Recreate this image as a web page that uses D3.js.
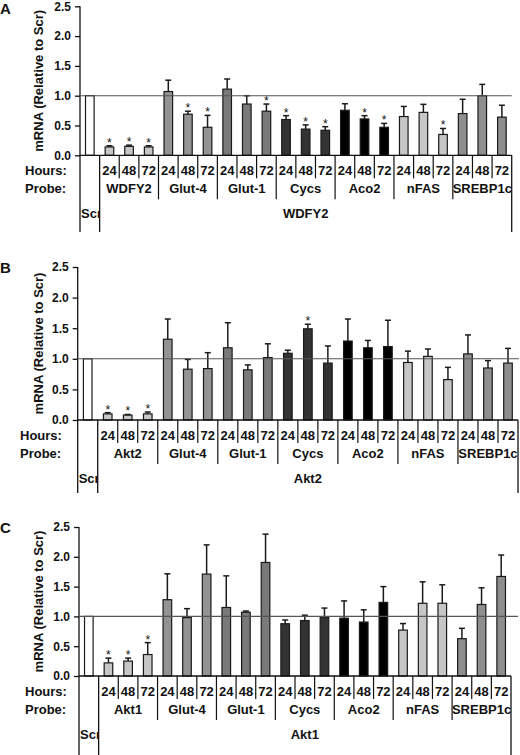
<!DOCTYPE html>
<html><head><meta charset="utf-8">
<script src="https://cdn.jsdelivr.net/npm/d3@7"></script>
<style>
body{margin:0;background:#fff;}
svg text{font-family:"Liberation Sans",Arial,sans-serif;font-weight:bold;fill:#111;}
</style></head>
<body><svg id="chart" width="520" height="755"></svg>
<script>
// ---- data ----
const panelLetters = ["A", "B", "C"];
const targets = ["WDFY2", "Akt2", "Akt1"];
const probesCommon = ["Glut-4", "Glut-1", "Cycs", "Aco2", "nFAS", "SREBP1c"];
const hours = ["24", "48", "72"];
const yTicks = [0, 0.5, 1.0, 1.5, 2.0, 2.5];
const scrValue = 1.0;

// means for 7 probes x 3 time points (target, Glut-4, Glut-1, Cycs, Aco2, nFAS, SREBP1c)
const meansA = [0.14, 0.15, 0.14,  1.07, 0.69, 0.47,  1.11, 0.86, 0.74,  0.60, 0.44, 0.42,  0.755, 0.61, 0.47,  0.65, 0.72, 0.35,  0.70, 1.00, 0.64];
const errsA  = [0.02, 0.02, 0.02,  0.19, 0.05, 0.20,  0.17, 0.14, 0.12,  0.065, 0.07, 0.06,  0.11, 0.055, 0.065,  0.17, 0.135, 0.10,  0.24, 0.19, 0.20];
const starsA = [1,1,1, 0,1,1, 0,0,1, 1,1,1, 0,1,1, 0,0,1, 0,0,0];

const meansB = [0.10, 0.08, 0.10,  1.32, 0.83, 0.84,  1.18, 0.82, 1.02,  1.09, 1.49, 0.93,  1.29, 1.18, 1.20,  0.94, 1.04, 0.66,  1.08, 0.85, 0.93];
const errsB  = [0.02, 0.01, 0.03,  0.33, 0.16, 0.26,  0.41, 0.08, 0.225,  0.05, 0.075, 0.28,  0.36, 0.12, 0.43,  0.185, 0.12, 0.20,  0.31, 0.12, 0.24];
const starsB = [1,1,1, 0,0,0, 0,0,0, 0,1,0, 0,0,0, 0,0,0, 0,0,0];

const meansC = [0.22, 0.25, 0.36,  1.28, 0.98, 1.71,  1.15, 1.07, 1.905,  0.877, 0.93, 0.99,  0.97, 0.905, 1.235,  0.77, 1.22, 1.22,  0.626, 1.20, 1.67];
const errsC  = [0.08, 0.05, 0.20,  0.435, 0.15, 0.49,  0.53, 0.02, 0.475,  0.063, 0.09, 0.15,  0.29, 0.205, 0.265,  0.11, 0.36, 0.31,  0.174, 0.28, 0.36];
const starsC = [1,1,1, 0,0,0, 0,0,0, 0,0,0, 0,0,0, 0,0,0, 0,0,0];

const panelMeans = [meansA, meansB, meansC];
const panelErrs = [errsA, errsB, errsC];
const panelStars = [starsA, starsB, starsC];

// ---- layout / style ----
const groupColors = ["#c6c6c6", "#939393", "#7a7a7a", "#333333", "#000000", "#c6c6c6", "#8e8e8e"];
const layouts = [
  {x0: 80, x1: 511.7, refEnd: 511.7, y0: 155.3, yTop: 6.3, bottom: 232, letterY: 14, rowX: 25},
  {x0: 77.7, x1: 518, refEnd: 519, y0: 420, yTop: 267, bottom: 493, letterY: 273, rowX: 20},
  {x0: 79, x1: 511, refEnd: 518, y0: 676, yTop: 527, bottom: 755, letterY: 533, rowX: 25}
];

const svg = d3.select("#chart");

layouts.forEach((L, p) => {
  const g = svg.append("g");
  const means = panelMeans[p], errs = panelErrs[p], stars = panelStars[p];
  const probes = [targets[p]].concat(probesCommon);
  // data rows
  const rows = [{name: "Scr", hour: "", group: -1, mean: scrValue, err: 0, star: 0, slot: 0}];
  probes.forEach((pr, gi) => hours.forEach((h, hi) => {
    const k = gi * 3 + hi;
    rows.push({name: pr, hour: h, group: gi, mean: means[k], err: errs[k], star: stars[k], slot: k + 1});
  }));

  const x = d3.scaleBand().domain(d3.range(22)).range([L.x0, L.x1]).paddingInner(0).paddingOuter(0);
  const y = d3.scaleLinear().domain([0, 2.5]).range([L.y0, L.yTop]);
  const bw = 8.6;
  const slotW = x.bandwidth();

  // panel letter
  g.append("text").attr("x", 0).attr("y", L.letterY).attr("font-size", 15).text(panelLetters[p]);

  // y label
  g.append("text").attr("transform", `translate(43,${(L.y0 + L.yTop) / 2}) rotate(-90)`)
    .attr("text-anchor", "middle").attr("font-size", 13).text("mRNA (Relative to Scr)");

  // y axis
  const ax = g.append("g").attr("transform", `translate(${L.x0},0)`)
    .call(d3.axisLeft(y).tickValues(yTicks).tickFormat(d3.format(".1f")).tickSize(5).tickPadding(4));
  ax.select(".domain").remove();
  ax.selectAll(".tick line").attr("stroke", "#111").attr("stroke-width", 1.3);
  ax.selectAll(".tick text").attr("font-size", 12).attr("font-family", '"Liberation Sans",Arial,sans-serif').attr("font-weight", "bold").attr("fill", "#111");

  // axis line down through table
  g.append("line").attr("x1", L.x0).attr("x2", L.x0).attr("y1", L.yTop).attr("y2", L.bottom)
    .attr("stroke", "#111").attr("stroke-width", 1.3);

  // bars
  g.selectAll("rect.bar").data(rows).join("rect").attr("class", "bar")
    .attr("x", d => x(d.slot) + slotW / 2 - bw / 2)
    .attr("width", bw)
    .attr("y", d => y(d.mean))
    .attr("height", d => L.y0 - y(d.mean))
    .attr("fill", d => d.group < 0 ? "#ffffff" : groupColors[d.group])
    .attr("stroke", "#1a1a1a").attr("stroke-width", 1.2);

  // error bars
  const eb = rows.filter(d => d.err > 0);
  g.selectAll("line.err").data(eb).join("line").attr("class", "err")
    .attr("x1", d => x(d.slot) + slotW / 2).attr("x2", d => x(d.slot) + slotW / 2)
    .attr("y1", d => y(d.mean)).attr("y2", d => y(d.mean + d.err))
    .attr("stroke", "#1a1a1a").attr("stroke-width", 1.5);
  g.selectAll("line.cap").data(eb).join("line").attr("class", "cap")
    .attr("x1", d => x(d.slot) + slotW / 2 - 3).attr("x2", d => x(d.slot) + slotW / 2 + 3)
    .attr("y1", d => y(d.mean + d.err)).attr("y2", d => y(d.mean + d.err))
    .attr("stroke", "#1a1a1a").attr("stroke-width", 1.5);

  // stars
  g.selectAll("text.star").data(rows.filter(d => d.star)).join("text").attr("class", "star")
    .attr("x", d => x(d.slot) + slotW / 2).attr("y", d => y(d.mean + d.err) + 1)
    .attr("text-anchor", "middle").attr("font-size", 12).style("font-weight", "normal").text("*");

  // reference line at 1.0
  g.append("line").attr("x1", L.x0).attr("x2", L.refEnd).attr("y1", y(1)).attr("y2", y(1))
    .attr("stroke", "#555").attr("stroke-width", 1.1);

  // x axis line
  g.append("line").attr("x1", L.x0).attr("x2", L.x1).attr("y1", L.y0).attr("y2", L.y0)
    .attr("stroke", "#111").attr("stroke-width", 1.3);

  // table lines
  const bx = i => L.x0 + i * slotW;
  d3.range(2, 22).forEach(i => {
    const isGroup = (i - 1) % 3 === 0;
    g.append("line").attr("x1", bx(i)).attr("x2", bx(i)).attr("y1", L.y0)
      .attr("y2", L.y0 + (isGroup ? 44 : 23)).attr("stroke", "#111").attr("stroke-width", 1.2);
  });
  [1, 22].forEach(i => g.append("line").attr("x1", bx(i)).attr("x2", bx(i)).attr("y1", L.y0)
    .attr("y2", L.bottom).attr("stroke", "#111").attr("stroke-width", 1.3));

  // row labels
  g.append("text").attr("x", L.rowX).attr("y", L.y0 + 20).attr("font-size", 13).text("Hours:");
  g.append("text").attr("x", L.rowX).attr("y", L.y0 + 38).attr("font-size", 13).text("Probe:");

  // hour labels
  g.selectAll("text.hr").data(rows.filter(d => d.slot > 0)).join("text").attr("class", "hr")
    .attr("x", d => x(d.slot) + slotW / 2).attr("y", L.y0 + 20)
    .attr("text-anchor", "middle").attr("font-size", 13).text(d => d.hour);

  // probe labels
  g.selectAll("text.pr").data(probes).join("text").attr("class", "pr")
    .attr("x", (d, i) => bx(1 + i * 3) + 1.5 * slotW).attr("y", L.y0 + 38)
    .attr("text-anchor", "middle").attr("font-size", 13).text(d => d);

  // Scr label (clipped in its cell)
  const cid = "clip" + p;
  svg.append("clipPath").attr("id", cid).append("rect")
    .attr("x", L.x0).attr("y", L.y0 + 40).attr("width", slotW).attr("height", 40);
  g.append("text").attr("x", L.x0 + 1).attr("y", L.y0 + 63).attr("font-size", 13)
    .attr("clip-path", `url(#${cid})`).text("Scr");

  // target label under table
  g.append("text").attr("x", (bx(1) + L.x1) / 2).attr("y", L.y0 + 63)
    .attr("text-anchor", "middle").attr("font-size", 13).text(targets[p]);
});
</script></body></html>
